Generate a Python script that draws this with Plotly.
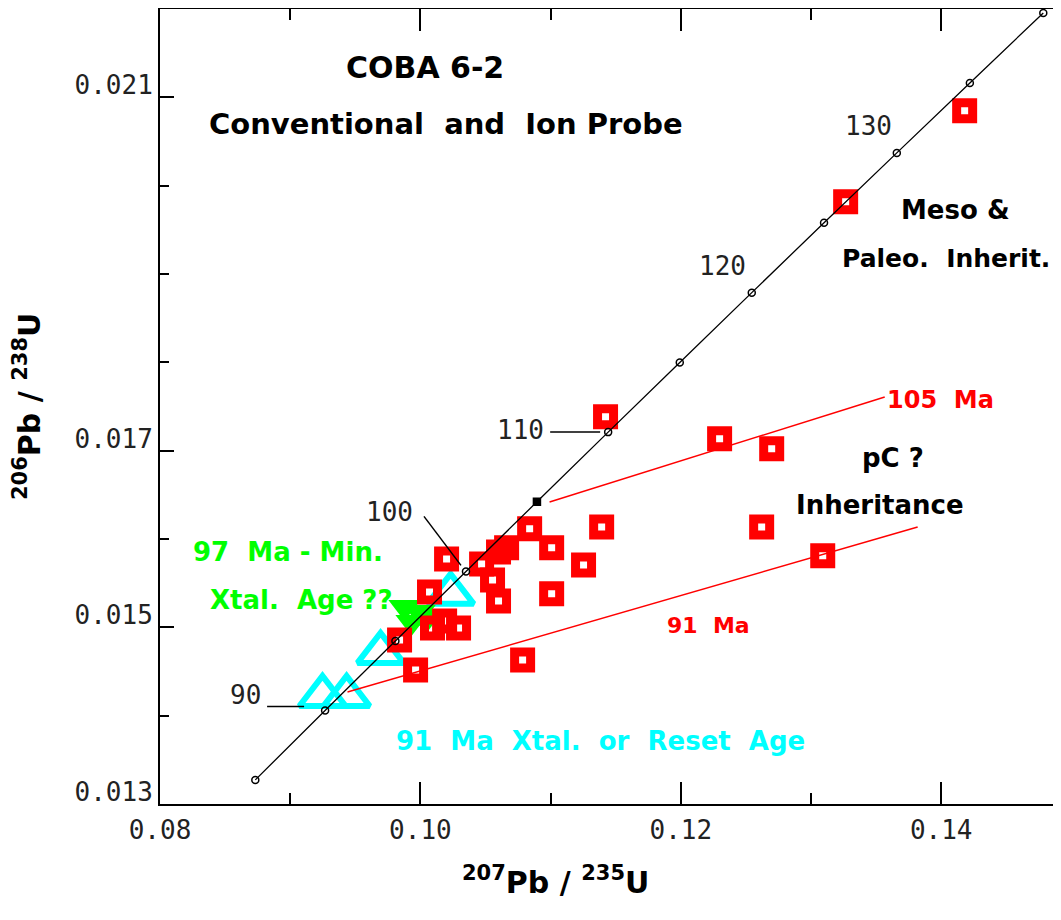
import plotly.graph_objects as go

# ---------------- data ----------------
# concordia reference points (age in Ma, 207Pb/235U, 206Pb/238U)
conc_age = [85, 90, 95, 100, 105, 110, 115, 120, 125, 130, 135, 140]
conc_x = [0.08732, 0.09268, 0.09808, 0.10350, 0.10895, 0.11442,
          0.11992, 0.12545, 0.13100, 0.13659, 0.14220, 0.14784]
conc_y = [0.013273, 0.014059, 0.014846, 0.015633, 0.016421, 0.017210,
          0.017999, 0.018789, 0.019580, 0.020371, 0.021163, 0.021955]
labeled_ages = ["90", "100", "110", "120", "130"]

# zircon analyses (red open squares)
sq_x = [0.14180, 0.13266, 0.11422, 0.12298, 0.12698, 0.12621, 0.13090,
        0.10839, 0.11008, 0.11392, 0.11253, 0.11008, 0.10201, 0.10470,
        0.10600, 0.10662, 0.10554, 0.10600, 0.10070, 0.10093, 0.10186,
        0.10293, 0.09840, 0.09963, 0.10785]
sq_y = [0.020849, 0.019818, 0.017383, 0.017134, 0.017021, 0.016137, 0.015809,
        0.016115, 0.015900, 0.016137, 0.015707, 0.015379, 0.015775, 0.015718,
        0.015854, 0.015900, 0.015537, 0.015299, 0.015401, 0.014993, 0.015073,
        0.014993, 0.014858, 0.014518, 0.014631]

# 91 Ma crystallisation / reset analyses (cyan triangles)
tri_x = [0.10232, 0.09694, 0.09248, 0.09433]
tri_y = [0.015379, 0.014710, 0.014223, 0.014223]

# 97 Ma minimum crystal age analyses (green)
grn_x = [0.09878, 0.09994, 0.09932, 0.10060]
grn_y = [0.015231, 0.015175, 0.015061, 0.015120]

# discordia lines
disc105_x = [0.10992, 0.13566]
disc105_y = [0.016419, 0.017608]
disc91_x = [0.09440, 0.13819]
disc91_y = [0.014268, 0.016136]

x_ticks = [0.08, 0.10, 0.12, 0.14]
x_ticktext = ["0.08", "0.10", "0.12", "0.14"]
x_minor = [0.09, 0.11, 0.13]
y_ticks = [0.013, 0.015, 0.017, 0.021]
y_ticktext = ["0.013", "0.015", "0.017", "0.021"]

# ---------------- figure ----------------
RED = "#ff0000"
CYAN = "#00ffff"
GREEN = "#00ff00"
BOLD = "DejaVu Sans"
MONO = "DejaVu Sans Mono"

PAGE_OFF = 8  # default body margin of the html page
FIG_W, FIG_H = 1061 - PAGE_OFF, 920 - PAGE_OFF
L, T, W, H = 160, 9, 901, 795  # plot area in screen pixels

fig = go.Figure()

fig.add_trace(go.Scatter(
    x=tri_x, y=tri_y, mode="markers",
    marker=dict(symbol="triangle-up-open", size=40, color=CYAN,
                line=dict(color=CYAN, width=6)),
    hoverinfo="skip"))

fig.add_trace(go.Scatter(
    x=grn_x, y=grn_y, mode="markers",
    marker=dict(symbol="triangle-down", size=28, color=GREEN,
                line=dict(width=0)),
    hoverinfo="skip"))

fig.add_trace(go.Scatter(
    x=sq_x, y=sq_y, mode="markers",
    marker=dict(symbol="square-open", size=16, color=RED,
                line=dict(color=RED, width=9)),
    hoverinfo="skip"))

for dx, dy in [(disc105_x, disc105_y), (disc91_x, disc91_y)]:
    fig.add_trace(go.Scatter(x=dx, y=dy, mode="lines",
                             line=dict(color=RED, width=1.5),
                             hoverinfo="skip"))

fig.add_trace(go.Scatter(
    x=conc_x, y=conc_y, mode="lines",
    line=dict(color="black", width=1.3, shape="spline"),
    hoverinfo="skip"))

marker_sym = ["square" if a == 105 else "circle-open" for a in conc_age]
fig.add_trace(go.Scatter(
    x=conc_x, y=conc_y, mode="markers",
    marker=dict(symbol=marker_sym, size=7, color="black",
                line=dict(color="black", width=1.5)),
    hoverinfo="skip"))

# ---------------- annotations ----------------


def paper(px, py):
    return (px - L) / W, 1 - (py - T) / H


ann = []


def text(s, px, py, size, color="black", family=BOLD, weight="bold", angle=0):
    xp, yp = paper(px, py)
    ann.append(dict(text=s, x=xp, y=yp, xref="paper", yref="paper",
                    showarrow=False, xanchor="center", yanchor="middle",
                    textangle=angle,
                    font=dict(family=family, size=size, color=color,
                              weight=weight)))


text("COBA 6-2", 425, 68, 30)
text("Conventional  and  Ion Probe", 446, 124, 29)
text("Meso &", 955, 210, 26)
text("Paleo.  Inherit.", 946, 259, 25)
text("105  Ma", 940, 400, 24, RED)
text("pC ?", 893, 458, 26)
text("Inheritance", 880, 505, 26)
text("91  Ma", 708, 625, 22, RED)
text("97  Ma - Min.", 288, 552, 26, GREEN)
text("Xtal.  Age ??", 301, 600, 26, GREEN)
text("91  Ma  Xtal.  or  Reset  Age", 600, 741, 26, CYAN)

# age labels on concordia
for s, (px, py) in zip(labeled_ages,
                       [(245, 695), (389, 512), (520, 430), (722, 266), (868, 126)]):
    text(s, px, py, 26, "#222", MONO, "normal")

# axis titles
text("<sup>207</sup>Pb / <sup>235</sup>U", 555, 880, 30)
text("<sup>206</sup>Pb / <sup>238</sup>U", 27, 407, 30, angle=-90)

# leader lines from age labels to concordia ticks (pixel offsets anchored on data)
shapes = []
for age, (x0, y0, x1, y1) in [(90, (-58, 4, -21, 4)),
                              (100, (-42, 55, -5, 6)),
                              (110, (-58, 0, -8, 0))]:
    i = conc_age.index(age)
    shapes.append(dict(type="line", xref="x", yref="y",
                       xsizemode="pixel", ysizemode="pixel",
                       xanchor=conc_x[i], yanchor=conc_y[i],
                       x0=x0, x1=x1, y0=y0, y1=y1,
                       line=dict(color="black", width=1.5)))

fig.update_layout(
    width=FIG_W, height=FIG_H, autosize=False,
    margin=dict(l=L - PAGE_OFF, r=0, t=T - PAGE_OFF, b=FIG_H - (T - PAGE_OFF) - H),
    paper_bgcolor="white", plot_bgcolor="white",
    showlegend=False,
    annotations=ann,
    shapes=shapes,
    xaxis=dict(range=[0.08, 0.1492], tickvals=x_ticks, ticktext=x_ticktext,
               ticks="inside", ticklen=22, tickwidth=2, tickcolor="black",
               showline=True, linewidth=2, linecolor="black",
               mirror="allticks", showgrid=False, zeroline=False,
               minor=dict(tickvals=x_minor, ticks="inside", ticklen=11,
                          tickwidth=2, tickcolor="black", showgrid=False),
               tickfont=dict(family=MONO, size=26, color="#222"),
               ticklabelstandoff=2),
    yaxis=dict(range=[0.013, 0.022], tickvals=y_ticks, ticktext=y_ticktext,
               ticks="inside", ticklen=14, tickwidth=2, tickcolor="black",
               showline=True, linewidth=2, linecolor="black",
               mirror=False, showgrid=False, zeroline=False,
               minor=dict(dtick=0.001, tick0=0.013, ticks="inside",
                          ticklen=9, tickwidth=2, tickcolor="black",
                          showgrid=False),
               tickfont=dict(family=MONO, size=26, color="#222"),
               ticklabelstandoff=0, ticklabelshift=-12),
)

fig.write_html("out.html")
